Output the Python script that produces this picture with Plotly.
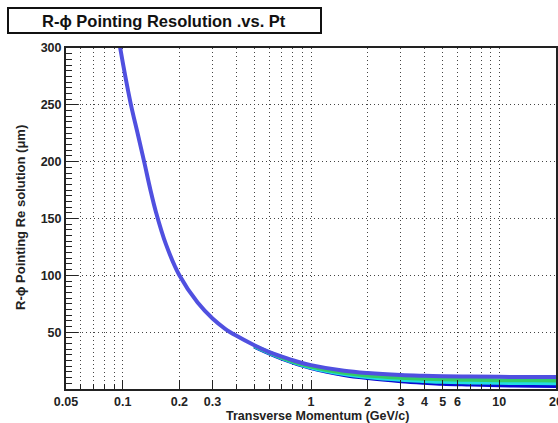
import plotly.graph_objects as go

# ---- data ----
pt_main = [0.09, 0.097, 0.11, 0.12, 0.13, 0.14, 0.15, 0.17, 0.2, 0.25, 0.3, 0.35, 0.4,
           0.5, 0.6, 0.7, 0.85, 1, 1.5, 2, 3, 4, 5, 7, 10, 15, 20]
res_main = [334, 300, 252, 225, 200, 176, 156, 127, 100, 76, 62, 53, 47,
            38.5, 32.5, 28.5, 24, 21, 16, 14, 12.3, 11.6, 11.2, 10.9, 10.7, 10.6, 10.55]

pt_low = [0.5, 0.7, 1, 1.5, 2, 3, 4, 5, 7, 10, 15, 20]
res_green = [38.0, 27.7, 19.7, 14.2, 11.9, 9.9, 9.0, 8.5, 8.05, 7.8, 7.6, 7.57]
res_cyan = [37.6, 27.2, 18.9, 13.1, 10.5, 8.1, 7.0, 6.3, 5.8, 5.4, 5.2, 5.1]
res_dblue = [37.3, 26.8, 18.4, 12.3, 9.6, 6.9, 5.5, 4.6, 3.9, 3.2, 2.9, 2.7]

x_major = [0.05, 0.1, 0.2, 0.3, 1, 2, 3, 4, 5, 6, 10, 20]
x_major_text = ["0.05", "0.1", "0.2", "0.3", "1", "2", "3", "4", "5", "6", "10", "20"]
x_minor = [0.06, 0.07, 0.08, 0.09, 0.4, 0.5, 0.6, 0.7, 0.8, 0.9, 7, 8, 9]
y_major = [50, 100, 150, 200, 250, 300]

title_text = "R-\u03d5 Pointing Resolution .vs. Pt"
x_title = "Transverse Momentum (GeV/c)"
y_title = "R-\u03d5 Pointing Re solution (\u03bcm)"

# ---- layout geometry (pixels) ----
W, H = 558, 423
L, R, T, B = 66, 556, 48, 389


def px(xp):
    return (xp - L) / (R - L)


def py(yp):
    return (B - yp) / (B - T)


fig = go.Figure()
for y, col in [(res_dblue, "#0a0ad2"), (res_cyan, "#22dde0"), (res_green, "#33cc66")]:
    fig.add_trace(go.Scatter(x=pt_low, y=y, mode="lines",
                             line=dict(color=col, width=4, shape="spline", smoothing=1.0),
                             showlegend=False, hoverinfo="skip"))
fig.add_trace(go.Scatter(x=pt_main, y=res_main, mode="lines",
                         line=dict(color="#5050e0", width=4, shape="spline", smoothing=1.0),
                         showlegend=False, hoverinfo="skip"))

FAM = "Liberation Sans, Arial, sans-serif"
tickfont = dict(family=FAM, color="#222", size=12.5, weight="bold")
GRID = "#444"
DASH = "1px,3px"

fig.update_layout(
    width=W, height=H,
    margin=dict(l=L, r=W - R, t=T, b=H - B, autoexpand=False),
    paper_bgcolor="white", plot_bgcolor="white",
    font=tickfont,
    xaxis=dict(type="log", range=[-1.30103, 1.30103],
               tickmode="array", tickvals=x_major, ticktext=x_major_text,
               ticks="inside", ticklen=9, tickwidth=1, tickcolor="#222",
               ticklabeloverflow="allow", ticklabelstandoff=0,
               showgrid=True, gridcolor=GRID, griddash=DASH, gridwidth=1,
               minor=dict(tickmode="array", tickvals=x_minor, ticks="inside", ticklen=5,
                          tickcolor="#222", showgrid=True, gridcolor=GRID,
                          griddash=DASH, gridwidth=1),
               showline=True, linecolor="#222", linewidth=2, mirror=True,
               zeroline=False, tickfont=tickfont),
    yaxis=dict(range=[0, 300], tickmode="array", tickvals=y_major,
               ticks="inside", ticklen=12, tickwidth=1, tickcolor="#222",
               showgrid=True, gridcolor=GRID, griddash=DASH, gridwidth=1,
               minor=dict(dtick=5, ticks="inside", ticklen=6, tickcolor="#222",
                          showgrid=False),
               showline=True, linecolor="#222", linewidth=2, mirror=True,
               zeroline=False, tickfont=tickfont),
)

# title box
fig.add_shape(type="rect", xref="paper", yref="paper",
              x0=px(8), x1=px(321), y0=py(33), y1=py(8),
              line=dict(color="#111", width=2), fillcolor="white")
fig.add_annotation(text=title_text, xref="paper", yref="paper",
                   x=px(164), y=py(21), xanchor="center", yanchor="middle",
                   showarrow=False,
                   font=dict(family=FAM, size=16.5, color="#111", weight="bold"))
# axis titles
fig.add_annotation(text=x_title, xref="paper", yref="paper",
                   x=px(317), y=py(416), xanchor="center", yanchor="middle",
                   showarrow=False,
                   font=dict(family=FAM, size=12.5, color="#222", weight="bold"))
fig.add_annotation(text=y_title, xref="paper", yref="paper",
                   x=px(20), y=py(218), xanchor="center", yanchor="middle",
                   textangle=-90, showarrow=False,
                   font=dict(family=FAM, size=13, color="#222", weight="bold"))

fig.write_html("out.html")
